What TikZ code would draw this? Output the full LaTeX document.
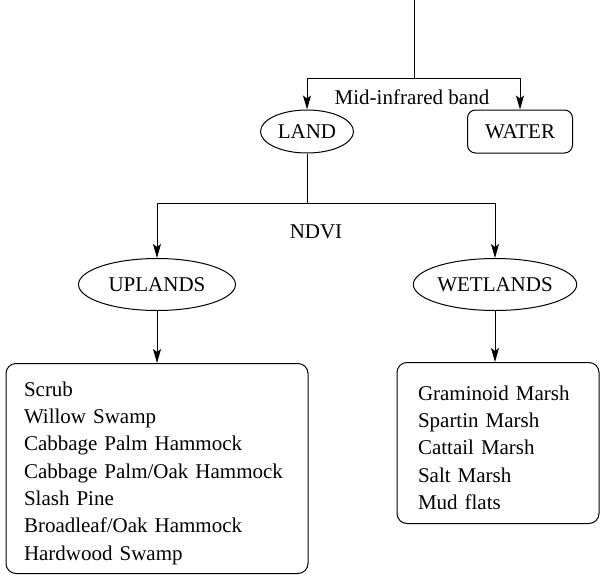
\documentclass[tikz,border=0pt]{standalone}
\usepackage{fontspec}
\setmainfont{Liberation Serif}
\usetikzlibrary{arrows.meta,positioning,shapes.geometric}
\tikzset{
  cls/.style={
    draw,ellipse,inner sep=0pt,line width=1pt,
    minimum width=157pt,minimum height=52pt
  },
  leaf/.style={draw,rectangle,rounded corners=8pt,inner sep=0pt,line width=1pt},
  list/.style={
    draw,rectangle,rounded corners=10pt,line width=1pt,
    align=left,inner ysep=0pt,text height=24pt
  },
  conn/.style={-{Stealth[length=14pt,width=8pt,inset=3pt]},line width=1pt}
}

\begin{document}
\begin{tikzpicture}[x=1pt,y=-1pt,font=\fontsize{21}{27.3}\selectfont]
\useasboundingbox (0,0) rectangle (600,576);

\coordinate (src) at (414,0);
\coordinate (band) at (414,78);
\coordinate (ndvisplit) at (307,203);

\node[cls,minimum width=93pt,minimum height=43pt] (land) at (307,131.5) {LAND};
\node[leaf,minimum width=105pt,minimum height=43pt] (water) at (520,131.5) {WATER};

\node[cls] (up) at (157,284.5) {UPLANDS};
\node[cls] (wet) at (495,284.5) {WETLANDS};

\node[list,text width=266pt,inner xsep=18pt,minimum height=210pt,below=52pt of up] (upbox) {
Scrub\\
Willow Swamp\\
Cabbage Palm Hammock\\
Cabbage Palm/Oak Hammock\\
Slash Pine\\
Broadleaf/Oak Hammock\\
Hardwood Swamp
};

\node[list,text width=160pt,inner xsep=21pt,minimum height=161pt,below=51pt of wet,xshift=3pt] (wetbox) {
Graminoid Marsh\\
Spartin Marsh\\
Cattail Marsh\\
Salt Marsh\\
Mud flats
};

\draw[line width=1pt] (src) -- (band);
\draw[conn] (band) -| (land);
\draw[conn] (band) -| (water);
\node (mir) at (412,97) {Mid-infrared band};

\draw[line width=1pt] (land) -- (ndvisplit);
\draw[conn] (ndvisplit) -| (up);
\draw[conn] (ndvisplit) -| (wet);
\node (ndvi) at (316,232) {NDVI};

\draw[conn] (up) -- (upbox);
\draw[conn] (wet) -- (wet |- wetbox.north);

\end{tikzpicture}
\end{document}
